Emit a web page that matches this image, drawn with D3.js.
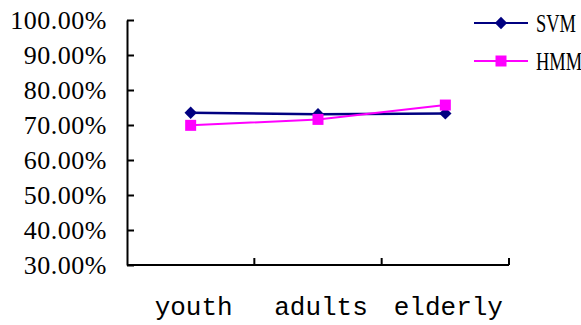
<!DOCTYPE html>
<html>
<head>
<meta charset="utf-8">
<script src="https://cdn.jsdelivr.net/npm/d3@7"></script>
<style>
  body { margin: 0; background: #fff; }
  svg { display: block; }
</style>
</head>
<body>
<div id="chart"></div>
<script>
// data
const groups = ["youth", "adults", "elderly"];
const svmValues = [73.5, 73.1, 73.3];
const hmmValues = [69.9, 71.6, 75.7];
const yTicks = [30, 40, 50, 60, 70, 80, 90, 100];
const seriesNames = ["SVM", "HMM"];

const width = 581, height = 325;
const margin = {top: 20, right: 72, bottom: 60, left: 127};

let svg = d3.select("#chart").append("svg")
    .attr("width", width)
    .attr("height", height);

let x = d3.scaleBand()
    .domain(groups)
    .range([margin.left, width - margin.right]);

let y = d3.scaleLinear()
    .domain([30, 100])
    .range([height - margin.bottom, margin.top]);

// y axis (ticks point inward)
let yAxis = svg.append("g")
    .attr("transform", "translate(" + margin.left + ",0)")
    .call(d3.axisRight(y).tickValues(yTicks).tickSize(7).tickSizeOuter(0).tickFormat(""));
yAxis.select(".domain").attr("stroke", "#000").attr("stroke-width", 2);
yAxis.selectAll(".tick line").attr("stroke", "#000").attr("stroke-width", 2);

svg.append("g")
    .selectAll("text")
    .data(yTicks)
    .enter()
    .append("text")
    .attr("x", margin.left - 20)
    .attr("y", d => y(d) + 9)
    .attr("text-anchor", "end")
    .style("font-family", "'Liberation Serif', serif")
    .style("font-size", "26px")
    .style("letter-spacing", "0.5px")
    .style("fill", "#000")
    .text(d => d.toFixed(2) + "%");

// x axis with ticks at band edges
let xEdges = groups.map(g => x(g)).concat([x(groups[groups.length - 1]) + x.bandwidth()]);
let xAxis = svg.append("g");
xAxis.append("line")
    .attr("x1", margin.left)
    .attr("x2", width - margin.right)
    .attr("y1", y(30))
    .attr("y2", y(30))
    .attr("stroke", "#000")
    .attr("stroke-width", 2);
xAxis.selectAll(".xtick")
    .data(xEdges.slice(1))
    .enter()
    .append("line")
    .attr("class", "xtick")
    .attr("x1", d => d)
    .attr("x2", d => d)
    .attr("y1", y(30))
    .attr("y2", y(30) - 7)
    .attr("stroke", "#000")
    .attr("stroke-width", 2);

xAxis.selectAll("text")
    .data(groups)
    .enter()
    .append("text")
    .attr("x", d => x(d) + x.bandwidth() / 2 + 3)
    .attr("y", 315)
    .attr("text-anchor", "middle")
    .style("font-family", "'Liberation Mono', monospace")
    .style("font-size", "26px")
    .style("fill", "#000")
    .text(d => d);

// series
let series = [
    {name: seriesNames[0], values: svmValues, color: "#000080", shape: "diamond"},
    {name: seriesNames[1], values: hmmValues, color: "#FF00FF", shape: "square"}
];

let line = d3.line()
    .x((d, i) => x(groups[i]) + x.bandwidth() / 2)
    .y(d => y(d));

function marker(sel, s) {
    if (s.shape == "diamond") {
        sel.attr("d", d3.symbol(d3.symbolSquare, 76)())
            .attr("fill", s.color);
        return "rotate(45)";
    }
    sel.attr("d", d3.symbol(d3.symbolSquare, 121)())
        .attr("fill", s.color);
    return "";
}

series.forEach(s => {
    svg.append("path")
        .datum(s.values)
        .attr("d", line)
        .attr("fill", "none")
        .attr("stroke", s.color)
        .attr("stroke-width", s.shape == "diamond" ? 2.5 : 2);

    svg.append("g")
        .selectAll("path")
        .data(s.values)
        .enter()
        .append("path")
        .each(function(d, i) {
            let r = marker(d3.select(this), s);
            d3.select(this).attr("transform",
                "translate(" + (x(groups[i]) + x.bandwidth() / 2) + "," + y(d) + ") " + r);
        });
});

// legend
let legendY = [23, 61];
series.forEach((s, i) => {
    let g = svg.append("g").attr("transform", "translate(0," + legendY[i] + ")");
    g.append("line")
        .attr("x1", 474).attr("x2", 528)
        .attr("stroke", s.color)
        .attr("stroke-width", 2);
    let m = g.append("path");
    let r = marker(m, s);
    m.attr("transform", "translate(501,0) " + r);
    // narrow the serif face, the original uses a condensed half-width font
    g.append("text")
        .attr("transform", "translate(536,9) scale(0.71,1)")
        .style("font-family", "'Liberation Serif', serif")
        .style("font-size", "26px")
        .style("fill", "#000")
        .text(s.name);
});
</script>
</body>
</html>
